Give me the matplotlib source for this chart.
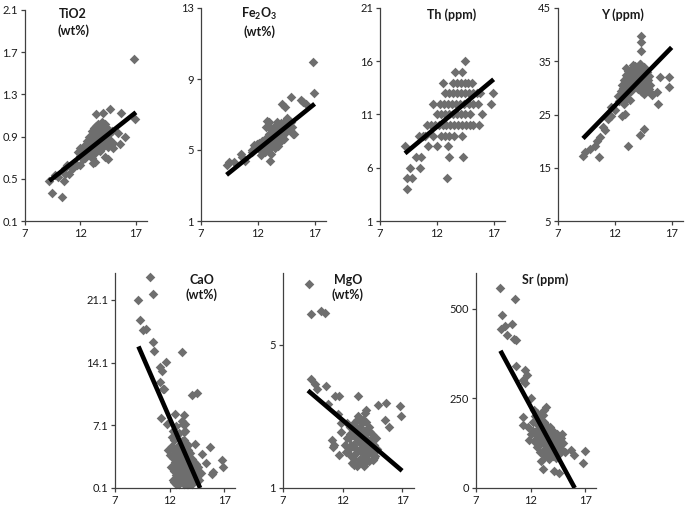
import matplotlib
matplotlib.use("Agg")
import matplotlib.pyplot as plt

plt.rcParams['font.family'] = ['Lato', 'DejaVu Sans']
plt.rcParams['mathtext.fontset'] = 'custom'
plt.rcParams['mathtext.rm'] = 'Lato'
plt.rcParams['mathtext.bf'] = 'Lato:bold'

# ---------------- data ----------------
x_ticks = [7, 12, 17]

tio2_x = [16.8, 16.9, 9.4, 10.3, 10.5, 9.2, 9.7, 10.6, 10.75, 11.2, 11.7, 11.95, 12.4, 13.1, 13.4, 14.05,
          14.65, 15.7, 16.0, 15.6, 14.2, 14.5, 13.75, 14.9, 15.4, 13.0, 13.3, 12.0, 11.35, 10.6, 11.0, 10.0,
          12.2, 12.4, 12.5, 12.6, 12.7, 12.8, 12.8, 12.9, 13.0, 13.0, 13.1, 13.2, 13.2, 13.3, 13.3, 13.4,
          13.4, 13.5, 13.5, 13.6, 13.6, 13.7, 13.7, 13.8, 13.8, 13.9, 13.9, 14.0, 14.0, 14.1, 14.1, 14.2,
          14.2, 14.3, 14.4, 14.4, 14.5, 14.6, 14.7, 14.8, 12.0, 12.3, 11.8, 13.0, 14.9,
          12.6, 12.9, 13.1, 13.4, 13.6, 13.8, 14.0, 14.3, 14.6, 13.3, 13.9, 14.2, 13.5, 12.4, 12.2]
tio2_y = [1.64, 1.07, 0.37, 0.33, 0.475, 0.475, 0.54, 0.55, 0.63, 0.60, 0.63, 0.79, 0.70, 0.65, 1.11, 1.12,
          1.16, 1.12, 0.90, 0.83, 0.71, 0.69, 0.76, 0.79, 0.93, 0.74, 0.66, 0.63, 0.60, 0.60, 0.55, 0.52,
          0.78, 0.82, 0.76, 0.86, 0.80, 0.90, 0.74, 0.84, 0.95, 0.78, 0.88, 0.82, 0.98, 0.92, 0.74, 0.86,
          1.00, 0.80, 0.94, 0.88, 1.02, 0.84, 0.96, 0.78, 0.90, 1.04, 0.86, 0.94, 0.80, 0.98, 0.88, 0.84,
          1.02, 0.92, 0.86, 0.98, 0.80, 0.92, 0.86, 0.95, 0.72, 0.70, 0.75, 0.70, 0.84,
          0.78, 0.80, 0.92, 0.93, 0.82, 0.98, 0.87, 0.97, 0.88, 0.84, 0.95, 0.93, 0.90, 0.74, 0.69]
tio2_fit_x = [9.2, 17.0]
tio2_fit_y = [0.48, 1.13]

fe_x = [16.85, 16.9, 14.9, 15.8, 16.0, 16.2, 14.1, 14.4, 12.8, 13.7, 13.1, 15.15, 13.1, 9.3, 9.5, 9.9,
        10.5, 10.6, 10.9, 11.5, 11.9,
        11.9, 12.1, 12.2, 12.4, 12.5, 12.6, 12.7, 12.8, 12.9, 13.0, 13.0, 13.1, 13.2, 13.2, 13.3, 13.4,
        13.4, 13.5, 13.6, 13.6, 13.7, 13.8, 13.8, 13.9, 14.0, 14.0, 14.1, 14.2, 14.3, 14.3, 14.4, 14.5,
        14.6, 14.7, 14.8, 14.9, 15.0, 15.1, 12.3, 11.5, 11.7, 13.0, 12.7,
        12.5, 12.9, 13.3, 13.5, 13.7, 14.1, 14.4, 13.2, 13.9, 12.7, 14.6]
fe_y = [9.95, 8.2, 8.0, 7.8, 7.7, 7.6, 7.6, 7.4, 6.65, 6.6, 6.3, 5.9, 4.4, 4.15, 4.3, 4.3,
        4.75, 4.6, 4.4, 4.9, 5.35,
        5.2, 5.4, 5.0, 5.5, 5.2, 4.9, 5.7, 5.3, 5.0, 5.9, 5.5, 5.2, 6.2, 4.8, 5.7, 5.4,
        6.0, 5.1, 5.8, 6.4, 5.5, 6.1, 5.2, 5.8, 6.5, 5.5, 6.2, 5.9, 6.6, 5.6, 6.3, 6.0,
        6.8, 6.4, 6.1, 6.6, 6.3, 5.9, 4.7, 5.0, 5.3, 6.6, 6.3,
        5.45, 5.6, 5.9, 5.5, 6.2, 5.8, 6.6, 5.3, 6.3, 5.1, 6.3]
fe_fit_x = [9.25, 17.0]
fe_fit_y = [3.6, 7.6]

th_x = [14.5,
        13.6, 14.25,
        12.5, 13.4, 13.75, 14.1, 14.45, 14.75, 15.1,
        12.7, 13.05, 13.4, 13.75, 14.1, 14.45, 14.8, 15.15, 15.5, 15.8, 16.9,
        11.7, 12.3, 12.65, 13.0, 13.35, 13.7, 14.05, 14.4, 14.8, 15.2, 15.6, 16.8,
        12.0, 12.35, 12.7, 13.05, 13.4, 13.75, 14.1, 14.5, 14.9, 16.0,
        11.1, 11.45, 11.8, 12.15, 12.5, 12.85, 13.2, 13.55, 13.9, 14.25, 14.6, 14.9, 15.2, 15.7,
        10.45, 10.75, 11.0, 11.7, 12.4, 12.75, 13.1, 13.5, 14.2,
        9.2, 11.25, 12.0, 13.0,
        10.2, 10.6, 13.05, 14.3,
        9.6, 10.5,
        9.35, 9.8, 12.9,
        9.35]
th_y = [16,
        15, 15,
        14, 14, 14, 14, 14, 14, 14,
        13, 13, 13, 13, 13, 13, 13, 13, 13, 13, 13,
        12, 12, 12, 12, 12, 12, 12, 12, 12, 12, 12, 12,
        11, 11, 11, 11, 11, 11, 11, 11, 11, 11,
        10, 10, 10, 10, 10, 10, 10, 10, 10, 10, 10, 10, 10, 10,
        9, 9, 9, 9, 9, 9, 9, 9, 9,
        8, 8, 8, 8,
        7, 7, 7, 7,
        6, 6,
        5, 5, 5,
        4]
th_fit_x = [9.2, 17.0]
th_fit_y = [7.35, 14.3]

y_x = [14.34, 14.34, 14.34, 14.2, 15.95, 16.8, 16.8, 15.7, 15.8, 14.6, 14.2, 13.2, 10.6, 9.4, 9.2, 9.8,
       10.25, 10.45, 10.7, 11.1, 11.0, 11.4, 11.7, 12.0, 11.7, 12.6, 12.9, 12.4, 15.1, 15.3, 14.8,
       12.3, 12.5, 12.6, 12.7, 12.8, 12.9, 13.0, 13.0, 13.1, 13.2, 13.2, 13.3, 13.4, 13.4, 13.5, 13.5,
       13.6, 13.6, 13.7, 13.8, 13.8, 13.9, 14.0, 14.0, 14.1, 14.2, 14.2, 14.3, 14.4, 14.4, 14.5, 14.6,
       14.7, 14.8, 14.9, 15.0, 15.1, 12.9, 13.3, 14.6, 15.0,
       12.7, 12.9, 13.1, 13.3, 13.5, 13.7, 13.9, 14.1, 14.3, 14.5, 14.7, 13.1, 13.5, 13.9, 14.3,
       13.0, 13.6, 14.6, 12.5, 12.8]
y_y = [39.8, 38.7, 37.0, 34.5, 32.0, 32.0, 30.1, 29.2, 27.0, 22.3, 21.1, 19.0, 17.0, 18.0, 17.3, 18.6,
       19.0, 20.1, 20.8, 22.0, 22.6, 24.2, 24.8, 25.9, 26.4, 24.8, 25.1, 27.6, 29.2, 28.6, 30.1,
       28.5, 29.5, 30.5, 28.8, 31.5, 29.8, 32.5, 30.8, 28.9, 33.2, 31.8, 30.2, 32.8, 29.5, 33.8, 31.2,
       32.2, 30.0, 33.0, 31.0, 34.2, 32.5, 29.8, 33.5, 31.5, 34.5, 30.5, 32.8, 29.2, 33.8, 31.2, 32.5,
       30.2, 33.0, 31.5, 32.2, 30.5, 27.5, 27.8, 28.8, 29.8,
       30.0, 31.0, 32.0, 31.0, 32.5, 31.8, 33.5, 32.8, 31.0, 33.2, 32.0, 30.0, 30.5, 30.8, 29.5,
       33.8, 34.3, 34.0, 27.8, 27.0]
y_fit_x = [9.2, 17.0]
y_fit_y = [20.5, 37.6]

cao_x = [10.2, 10.45, 9.15, 9.3, 9.6, 9.8, 10.5, 10.6, 13.1, 11.7, 11.1, 11.3, 11.1, 11.5, 14.1, 14.5,
         11.2, 11.75, 12.5, 13.3, 13.1, 13.4, 15.7, 16.8, 16.9, 16.0, 15.9, 15.0, 14.3, 13.3, 13.7, 11.9,
         15.3, 11.4,
         12.2, 12.3, 12.4, 12.5, 12.5, 12.6, 12.7, 12.7, 12.8, 12.8, 12.9, 13.0, 13.0, 13.1, 13.1, 13.2,
         13.2, 13.3, 13.3, 13.4, 13.4, 13.5, 13.5, 13.6, 13.6, 13.7, 13.7, 13.8, 13.8, 13.9, 13.9, 14.0,
         14.0, 14.1, 14.2, 14.2, 14.3, 14.4, 14.5, 14.6, 14.7, 14.9, 12.4, 12.1, 12.0,
         12.3, 12.4, 12.5, 12.6, 12.6, 12.7, 12.8, 12.8, 12.9, 12.9, 13.0, 13.1, 13.1, 13.2, 13.2, 13.3,
         13.3, 13.4, 13.4, 13.5, 13.5, 13.6, 13.6, 13.7, 13.7, 13.8, 13.9, 13.9, 14.0, 14.1, 14.1, 14.2,
         14.3, 14.4, 14.5, 12.2, 12.3, 12.6, 12.9, 13.2]
cao_y = [23.66, 21.73, 21.1, 18.8, 17.7, 17.9, 16.35, 15.35, 15.25, 14.2, 13.6, 13.2, 11.9, 11.2, 10.5, 10.7,
         7.9, 7.3, 8.4, 8.3, 7.6, 7.3, 4.7, 3.2, 2.4, 1.9, 1.7, 3.85, 5.0, 6.35, 4.9, 4.3,
         2.9, 11.2,
         4.8, 3.5, 5.5, 2.4, 4.2, 1.5, 3.2, 6.0, 0.9, 4.8, 2.2, 3.8, 1.2, 5.4, 2.8, 0.7,
         4.4, 1.8, 3.4, 0.9, 6.5, 2.5, 4.9, 1.4, 3.6, 0.6, 2.2, 3.0, 1.0, 4.0, 1.7, 2.6,
         0.8, 3.3, 1.4, 2.1, 0.9, 2.8, 1.6, 2.4, 1.0, 1.8, 0.8, 2.5, 3.8,
         1.0, 2.0, 3.0, 0.5, 4.0, 2.0, 1.5, 3.0, 4.0, 0.6, 2.5, 1.6, 4.5, 2.2, 3.0, 0.5,
         5.5, 2.0, 3.8, 1.2, 3.2, 0.5, 2.7, 1.5, 4.3, 2.0, 0.7, 2.9, 1.6, 2.2, 0.5, 3.0,
         1.8, 1.2, 2.0, 5.8, 6.5, 7.0, 6.2, 7.2]
cao_fit_x = [9.15, 14.8]
cao_fit_y = [15.9, 0.1]

mgo_x = [9.2, 9.34, 10.2, 10.5, 9.34, 9.67, 9.87, 10.6, 11.35, 11.7, 13.3, 14.96, 15.66, 16.8, 16.9, 15.6,
         15.9, 10.8, 11.6, 11.9, 11.9, 11.1, 11.26, 11.2, 11.7, 13.0, 14.0, 14.55, 13.9, 14.0,
         12.4, 12.5, 12.6, 12.7, 12.8, 12.9, 13.0, 13.0, 13.1, 13.2, 13.2, 13.3, 13.4, 13.4, 13.5, 13.6,
         13.6, 13.7, 13.7, 13.8, 13.9, 14.0, 14.0, 14.1, 14.2, 14.2, 14.3, 14.4, 14.5, 14.6, 14.7, 14.8,
         13.3, 12.8, 12.2, 14.9,
         12.5, 12.7, 12.9, 13.1, 13.1, 13.3, 13.5, 13.5, 13.7, 13.9, 13.9, 14.1, 14.3, 14.3, 14.5, 13.8,
         13.5, 13.2, 12.9, 12.6, 14.6, 14.0, 13.6, 12.4, 12.3]
mgo_y = [6.69, 5.85, 5.93, 5.88, 4.05, 3.89, 3.77, 3.86, 3.58, 3.58, 3.56, 3.32, 3.37, 3.28, 3.0, 2.89,
         2.69, 3.35, 3.07, 2.8, 2.56, 2.33, 2.19, 2.15, 1.92, 1.64, 1.73, 1.78, 3.1, 3.17,
         2.4, 2.1, 2.7, 1.9, 2.5, 2.2, 2.8, 1.8, 2.4, 2.0, 2.9, 2.6, 1.7, 2.3, 2.7, 2.0,
         2.45, 1.8, 2.9, 2.2, 2.6, 1.9, 2.4, 2.1, 2.7, 1.75, 2.3, 2.0, 2.5, 2.2, 1.9, 2.4,
         3.0, 1.7, 2.2, 2.1,
         2.4, 2.2, 2.5, 2.1, 2.7, 2.3, 2.1, 2.5, 2.3, 2.0, 2.4, 2.6, 2.0, 2.55, 2.2, 1.6,
         1.8, 1.6, 1.9, 2.5, 1.85, 2.85, 2.8, 2.8, 2.0]
mgo_fit_x = [9.1, 17.0]
mgo_fit_y = [3.72, 1.48]

sr_x = [9.24, 10.55, 9.4, 9.33, 9.7, 10.3, 9.85, 10.5, 10.7, 10.7, 11.45, 11.7, 11.3, 11.5, 12.0, 11.3,
        11.3, 11.85, 13.4, 13.2, 12.3, 13.1, 14.15, 14.6, 17.0, 16.85, 16.0, 15.7, 14.9, 14.3,
        11.8, 12.0, 12.2, 12.3, 12.4, 12.5, 12.6, 12.7, 12.8, 12.9, 12.9, 13.0, 13.1, 13.2, 13.3, 13.3,
        13.4, 13.5, 13.6, 13.7, 13.7, 13.8, 13.9, 14.0, 14.1, 14.1, 14.2, 14.3, 14.4, 14.5, 14.6, 14.7,
        14.8, 15.0, 15.2, 13.0, 12.6,
        12.4, 12.6, 12.8, 12.8, 13.0, 13.0, 13.2, 13.2, 13.4, 13.4, 13.6, 13.6, 13.8, 13.8, 14.0, 14.0,
        14.2, 14.4, 14.6, 14.8, 12.2, 12.5, 13.1, 13.5, 14.3, 14.9]
sr_y = [559, 527, 482, 445, 452, 457, 426, 415, 412, 340, 329, 315, 301, 292, 250, 197,
        175, 133, 226, 217, 219, 54, 47, 43, 103, 71, 91, 105, 152, 133,
        170, 150, 185, 130, 200, 160, 115, 175, 140, 205, 100, 160, 125, 185, 90, 145,
        110, 170, 130, 80, 155, 105, 140, 120, 90, 160, 135, 105, 150, 115, 95, 135,
        110, 125, 100, 75, 210,
        150, 185, 120, 165, 140, 190, 105, 150, 130, 175, 95, 150, 125, 170, 100, 140,
        115, 130, 120, 140, 160, 135, 205, 115, 85, 105]
sr_fit_x = [9.24, 16.05]
sr_fit_y = [383, 0]

# ---------------- drawing ----------------
W, H = 685, 509
fig = plt.figure(figsize=(W / 100, H / 100), dpi=100)

MARK = '#6e6e6e'
AX = '#404040'

panels = [
    (tio2_x, tio2_y, tio2_fit_x, tio2_fit_y, (25, 147, 10, 221), (0.1, 2.1),
     [0.1, 0.5, 0.9, 1.3, 1.7, 2.1], ['0.1', '0.5', '0.9', '1.3', '1.7', '2.1'],
     ['TiO2', '(wt%)'], 73, [14, 31]),
    (fe_x, fe_y, fe_fit_x, fe_fit_y, (201, 326, 8, 221), (1, 13),
     [1, 5, 9, 13], ['1', '5', '9', '13'],
     [r'Fe$_\mathbf{2}$O$_\mathbf{3}$', '(wt%)'], 259, [14, 32]),
    (th_x, th_y, th_fit_x, th_fit_y, (380, 505, 8, 221), (1, 21),
     [1, 6, 11, 16, 21], ['1', '6', '11', '16', '21'],
     ['Th (ppm)'], 452, [15]),
    (y_x, y_y, y_fit_x, y_fit_y, (558, 683, 8, 221), (5, 45),
     [5, 15, 25, 35, 45], ['5', '15', '25', '35', '45'],
     ['Y (ppm)'], 622, [15]),
    (cao_x, cao_y, cao_fit_x, cao_fit_y, (115, 235, 273, 488), (0.1, 24.1),
     [0.1, 7.1, 14.1, 21.1], ['0.1', '7.1', '14.1', '21.1'],
     ['CaO', '(wt%)'], 202, [280, 295]),
    (mgo_x, mgo_y, mgo_fit_x, mgo_fit_y, (283, 414, 273, 488), (1, 7),
     [1, 5], ['1', '5'],
     ['MgO', '(wt%)'], 348, [280, 295]),
    (sr_x, sr_y, sr_fit_x, sr_fit_y, (476, 596, 273, 488), (0, 600),
     [0, 250, 500], ['0', '250', '500'],
     ['Sr (ppm)'], 545, [280]),
]

for (xs, ys, fx, fy, box, ylim, yt, ytl, titles, tx, tys) in panels:
    l, r, t, b = box
    ax = fig.add_axes([l / W, 1 - b / H, (r - l) / W, (b - t) / H])
    ax.scatter(xs, ys, marker='D', s=24, color=MARK, linewidths=0, zorder=2, clip_on=False)
    ax.plot(fx, fy, color='black', lw=3.3, solid_capstyle='butt', zorder=3)
    ax.set_xlim(7, 18)
    ax.set_ylim(*ylim)
    ax.set_xticks(x_ticks)
    ax.set_xticklabels([str(v) for v in x_ticks])
    ax.set_yticks(yt)
    ax.set_yticklabels(ytl)
    for s in ('top', 'right'):
        ax.spines[s].set_visible(False)
    for s in ('left', 'bottom'):
        ax.spines[s].set_color(AX)
        ax.spines[s].set_linewidth(0.9)
    ax.tick_params(axis='both', direction='out', length=3, width=0.9, color=AX,
                   labelsize=8, labelcolor='#1a1a1a', pad=2)
    ax.patch.set_alpha(0)
    for txt, ty in zip(titles, tys):
        fig.text(tx / W, 1 - ty / H, txt, ha='center', va='center', fontsize=9,
                 fontweight='bold', color='#1a1a1a')

fig.savefig('out.png', dpi=100)
